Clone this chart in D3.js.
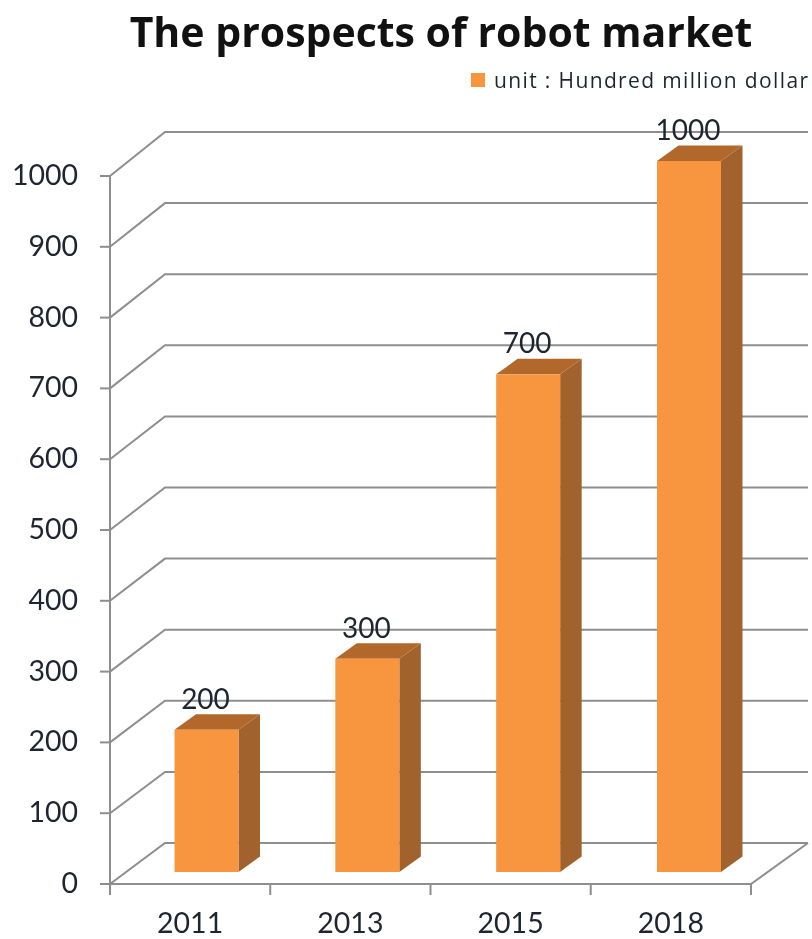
<!DOCTYPE html>
<html><head><meta charset="utf-8">
<script src="https://cdn.jsdelivr.net/npm/d3@7"></script>
<style>html,body{margin:0;padding:0;background:#fff}svg{display:block;filter:blur(0.5px)}text{font-family:Lato,"Open Sans",sans-serif;fill:#1f2530}</style>
</head><body><div id="chart"></div>
<script>
const title = "The prospects of robot market";
const legendLabel = "unit : Hundred million dollar";
const categories = ["2011","2013","2015","2018"];
const values = [200,300,700,1000];
const yTicks = [0,100,200,300,400,500,600,700,800,900,1000];
const colors = {front:"#F8953F",side:"#A1622E",top:"#B2682B",grid:"#8E8E8E"};

const W=812,H=939;
const svg=d3.select("#chart").append("svg").attr("width",W).attr("height",H).attr("viewBox",`0 0 ${W} ${H}`);
const y=d3.scaleLinear().domain([0,1000]).range([884,176]);
const yBack=d3.scaleLinear().domain([0,1000]).range([843,132]);
const yBar=d3.scaleLinear().domain([0,1000]).range([872,161]);
const x=d3.scaleBand().domain(categories).range([110,751]);
const xBar=d3.scalePoint().domain(categories).range([174.5,657]);
const barW=64, depthX=21.5, depthY=15.5;
const backX=165, rightX=808;

const grid=svg.append("g").attr("fill","none").attr("stroke",colors.grid).attr("stroke-width",2);
grid.selectAll("path").data(yTicks).join("path")
  .attr("d",d=>d3.line()([[x.range()[0],y(d)],[backX,yBack(d)],[rightX,yBack(d)]]));
grid.append("path").attr("d",d3.line()([[110,y(0)],[751,y(0)],[rightX,yBack(0)]]));
grid.append("path").attr("d",d3.line()([[110,y(1000)],[110,y(0)]]));
grid.selectAll("line.yt").data(yTicks).join("line").attr("class","yt")
  .attr("x1",100).attr("x2",110).attr("y1",d=>y(d)).attr("y2",d=>y(d));
const xEdges=[...categories.map(c=>x(c)),x.range()[1]];
grid.selectAll("line.xt").data(xEdges).join("line").attr("class","xt")
  .attr("x1",d=>d).attr("x2",d=>d).attr("y1",884).attr("y2",895);

const bars=svg.append("g").selectAll("g").data(categories.map((c,i)=>({c,v:values[i]}))).join("g");
bars.append("path").attr("fill",colors.side).attr("d",d=>{
  const l=xBar(d.c)+barW;return d3.line()([[l,yBar(d.v)],[l+depthX,yBar(d.v)-depthY],[l+depthX,yBar(0)-depthY],[l,yBar(0)]])+"Z";});
bars.append("path").attr("fill",colors.top).attr("d",d=>{
  const a=xBar(d.c),t=yBar(d.v);return d3.line()([[a,t],[a+depthX,t-depthY],[a+barW+depthX,t-depthY],[a+barW,t]])+"Z";});
bars.append("rect").attr("fill",colors.front)
  .attr("x",d=>xBar(d.c)).attr("width",barW).attr("y",d=>yBar(d.v)).attr("height",d=>yBar(0)-yBar(d.v));
bars.append("text").attr("text-anchor","middle").attr("font-size",28)
  .attr("x",d=>xBar(d.c)+barW/2-1).attr("y",d=>yBar(d.v)-21).text(d=>d.v);

svg.append("g").selectAll("text").data(yTicks).join("text").attr("text-anchor","end").attr("font-size",28.5)
  .attr("x",78).attr("y",d=>y(d)+9).text(d=>d);
svg.append("g").selectAll("text").data(categories).join("text").attr("text-anchor","middle").attr("font-size",28.5)
  .attr("x",d=>x(d)+x.bandwidth()/2).attr("y",933).text(d=>d);

svg.append("text").attr("x",441).attr("y",47).attr("text-anchor","middle").attr("font-size",41).attr("font-weight",700).style("font-family","'Open Sans'").style("fill","#111").text(title);
svg.append("rect").attr("x",471).attr("y",73).attr("width",14).attr("height",14).attr("fill",colors.front);
svg.append("text").attr("x",494).attr("y",88).attr("font-size",21).style("font-family","'Open Sans'").attr("textLength",314).text(legendLabel);
</script></body></html>
